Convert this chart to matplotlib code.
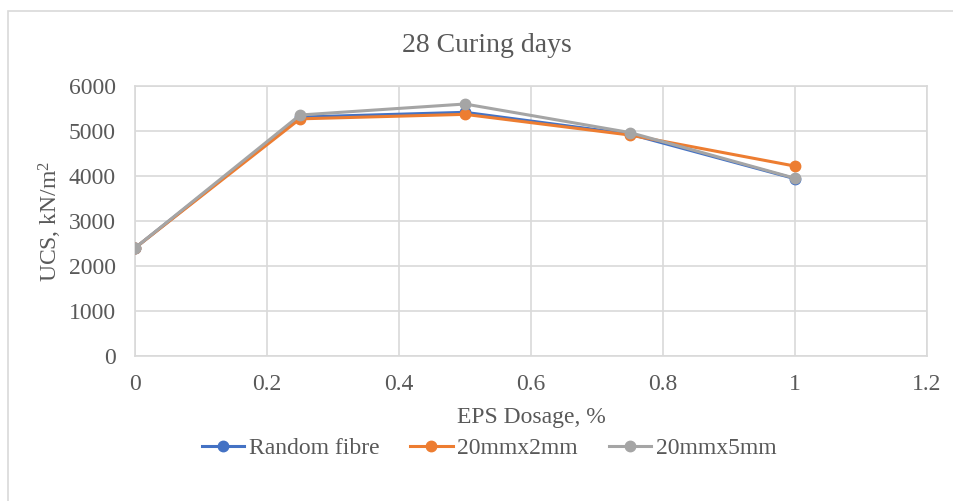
import matplotlib
matplotlib.use("Agg")
import matplotlib.pyplot as plt
from matplotlib.patches import Rectangle

# EPS dosage (%) and unconfined compressive strength (kN/m²) after 28 curing days
eps_dosage = [0, 0.25, 0.5, 0.75, 1]
random_fibre = [2400, 5310, 5415, 4930, 3940]
fibre_20x2 = [2400, 5270, 5370, 4910, 4220]
fibre_20x5 = [2400, 5355, 5600, 4965, 3950]

series_names = ["Random fibre", "20mmx2mm", "20mmx5mm"]
series_colors = ["#4472C4", "#ED7D31", "#A5A5A5"]

x_ticks = [0, 0.2, 0.4, 0.6, 0.8, 1, 1.2]
x_tick_labels = ["0", "0.2", "0.4", "0.6", "0.8", "1", "1.2"]
y_ticks = [0, 1000, 2000, 3000, 4000, 5000, 6000]

plt.rcParams["font.family"] = ["Liberation Serif", "DejaVu Serif"]
plt.rcParams["mathtext.fontset"] = "custom"
plt.rcParams["mathtext.rm"] = "Liberation Serif"
plt.rcParams["mathtext.it"] = "Liberation Serif:italic"
text_color = "#595959"
grid_color = "#D9D9D9"

W, H = 954, 501
fig = plt.figure(figsize=(W / 100, H / 100), dpi=100)
ax = fig.add_axes([135 / W, 1 - 356 / H, (927 - 135) / W, (356 - 86) / H])

# chart area outline
fig.patches.append(Rectangle((8 / W, -0.05), 1.2, 1 - 11 / H + 0.05,
                             transform=fig.transFigure, fill=False,
                             edgecolor=grid_color, linewidth=1.2))

for vals, name, col in zip([random_fibre, fibre_20x2, fibre_20x5], series_names, series_colors):
    ax.plot(eps_dosage, vals, color=col, linewidth=2.2, marker="o",
            markersize=7.5, label=name, zorder=3)

ax.set_xlim(0, 1.2)
ax.set_ylim(0, 6000)
ax.set_xticks(x_ticks)
ax.set_xticklabels(x_tick_labels)
ax.set_yticks(y_ticks)
ax.grid(True, color=grid_color, linewidth=1.2)
ax.set_axisbelow(True)
for s in ax.spines.values():
    s.set_color(grid_color)
    s.set_linewidth(1.2)
ax.tick_params(length=0, labelsize=17, colors=text_color)
ax.tick_params(axis="x", pad=13)
ax.tick_params(axis="y", pad=14)

fig.text(487 / W, 1 - 45 / H, "28 Curing days", fontsize=20, color=text_color,
         ha="center", va="center")
fig.text(531 / W, 1 - 417 / H, "EPS Dosage, %", fontsize=17, color=text_color,
         ha="center", va="center")
fig.text(50 / W, 1 - 221 / H, "UCS, kN/m$^2$", fontsize=17, color=text_color,
         ha="center", va="center", rotation=90)

fig.legend(loc="center", bbox_to_anchor=(489 / W, 1 - 448 / H), ncol=3,
           frameon=False, fontsize=17, labelcolor=text_color,
           handlelength=1.8, handletextpad=0.2, columnspacing=1.3)

fig.savefig("out.png", dpi=100)
